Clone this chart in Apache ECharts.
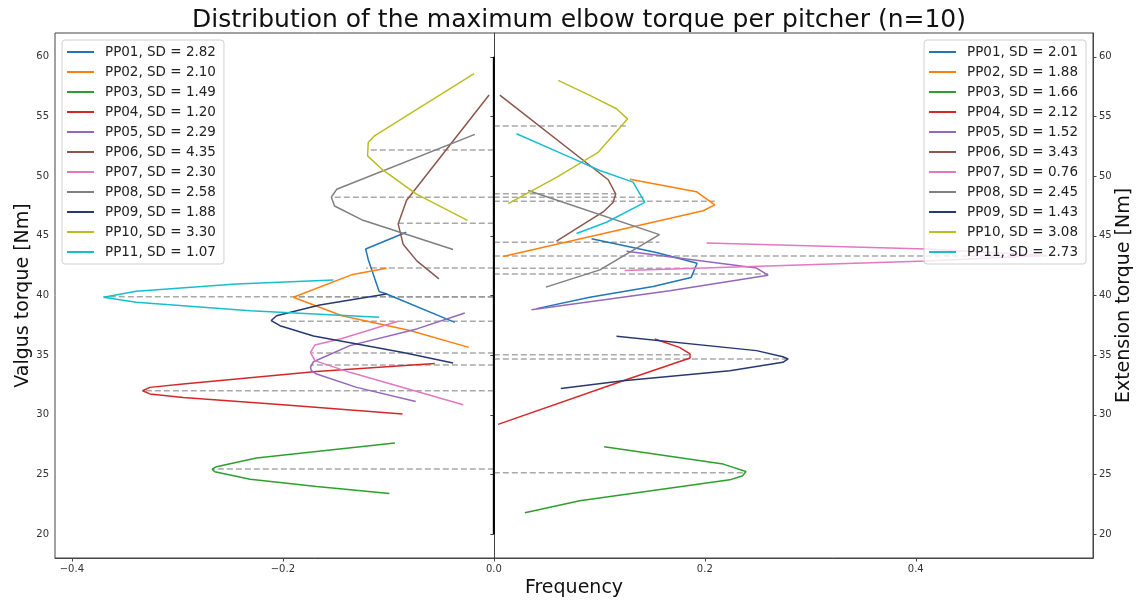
<!DOCTYPE html>
<html>
<head>
<meta charset="utf-8">
<style>
  html, body { margin: 0; padding: 0; background: #fff; }
  #chart { width: 1139px; height: 601px; }
</style>
</head>
<body>
<div id="chart"></div>
<script src="https://cdn.jsdelivr.net/npm/echarts@6/dist/echarts.min.js"></script>
<script>
// pitchers and colours
var pitchers = ['PP01', 'PP02', 'PP03', 'PP04', 'PP05', 'PP06', 'PP07', 'PP08', 'PP09', 'PP10', 'PP11'];
var colors = ['#1f77b4', '#ff7f0e', '#2ca02c', '#d62728', '#9467bd', '#8c564b', '#e377c2', '#7f7f7f', '#283872', '#bcbd22', '#17becf'];

// SD per pitcher (left = valgus, right = extension)
var valgusSD = ['2.82', '2.10', '1.49', '1.20', '2.29', '4.35', '2.30', '2.58', '1.88', '3.30', '1.07'];
var extensionSD = ['2.01', '1.88', '1.66', '2.12', '1.52', '3.43', '0.76', '2.45', '1.43', '3.08', '2.73'];

// density curves, [frequency, torque]; valgus drawn on the negative side
var valgusCurves = [
  [[-0.083, 45.3], [-0.1215, 43.9], [-0.119, 43.0], [-0.1087, 40.33], [-0.1017, 40.13], [-0.037, 37.75]],
  [[-0.1017, 42.28], [-0.135, 41.73], [-0.190, 39.85], [-0.144, 38.3], [-0.0796, 37.06], [-0.0237, 35.65]],
  [[-0.0938, 27.63], [-0.225, 26.38], [-0.263, 25.65], [-0.267, 25.45], [-0.2645, 25.23], [-0.231, 24.6], [-0.168, 24.0], [-0.099, 23.4]],
  [[-0.056, 34.31], [-0.168, 33.64], [-0.2945, 32.58], [-0.326, 32.3], [-0.333, 32.02], [-0.326, 31.75], [-0.2945, 31.46], [-0.2, 30.85], [-0.0866, 30.07]],
  [[-0.0275, 38.54], [-0.073, 37.2], [-0.1365, 35.8], [-0.171, 34.45], [-0.1738, 33.98], [-0.173, 33.7], [-0.168, 33.42], [-0.130, 32.3], [-0.074, 31.12]],
  [[-0.0045, 56.8], [-0.0828, 47.96], [-0.0907, 46.0], [-0.086, 44.3], [-0.073, 42.9], [-0.052, 41.4]],
  [[-0.0907, 37.84], [-0.144, 36.4], [-0.1697, 35.85], [-0.1738, 35.23], [-0.1697, 34.54], [-0.1365, 33.56], [-0.029, 30.85]],
  [[-0.018, 53.5], [-0.149, 48.9], [-0.154, 48.24], [-0.151, 47.5], [-0.124, 46.3], [-0.0386, 43.85]],
  [[-0.1017, 40.13], [-0.165, 39.2], [-0.206, 38.3], [-0.211, 37.9], [-0.2027, 37.47], [-0.171, 36.6], [-0.086, 35.23], [-0.0386, 34.35]],
  [[-0.0187, 58.6], [-0.1128, 53.4], [-0.119, 52.85], [-0.1197, 51.7], [-0.105, 50.5], [-0.0733, 48.5], [-0.025, 46.3]],
  [[-0.152, 41.3], [-0.244, 40.97], [-0.339, 40.35], [-0.370, 39.85], [-0.339, 39.43], [-0.231, 38.73], [-0.1087, 38.17]]
];

var extensionCurves = [
  [[0.0926, 44.75], [0.154, 43.6], [0.1927, 42.7], [0.187, 41.5], [0.151, 40.75], [0.091, 39.85], [0.0405, 38.9]],
  [[0.129, 49.75], [0.192, 48.7], [0.2095, 47.6], [0.1984, 47.1], [0.0088, 43.26]],
  [[0.1046, 27.32], [0.2174, 25.87], [0.239, 25.25], [0.236, 24.9], [0.2237, 24.55], [0.0815, 22.8], [0.0294, 21.8]],
  [[0.1526, 36.36], [0.176, 35.65], [0.186, 35.1], [0.186, 34.76], [0.1226, 32.86], [0.004, 29.2]],
  [[0.1258, 43.7], [0.249, 42.3], [0.26, 41.7], [0.1668, 40.4], [0.0357, 38.8]],
  [[0.0057, 56.8], [0.1084, 49.7], [0.1156, 48.5], [0.113, 47.8], [0.1036, 47.0], [0.0594, 44.55]],
  [[0.2016, 44.4], [0.41, 43.9], [0.524, 43.35], [0.41, 42.9], [0.124, 42.1]],
  [[0.0325, 48.8], [0.157, 45.1], [0.1005, 42.15], [0.0493, 40.7]],
  [[0.1163, 36.58], [0.249, 35.38], [0.274, 34.87], [0.279, 34.68], [0.274, 34.4], [0.2237, 33.7], [0.1226, 32.86], [0.0635, 32.2]],
  [[0.061, 58.03], [0.091, 56.77], [0.1163, 55.65], [0.1267, 54.8], [0.0989, 52.0], [0.0594, 49.9], [0.0136, 47.7]],
  [[0.0215, 53.56], [0.072, 51.6], [0.1005, 50.48], [0.132, 49.5], [0.1431, 47.8], [0.1068, 46.14], [0.0784, 45.2]]
];

// dashed markers: [torque, frequency reached]
var valgusMarks = [[52.2, -0.119], [48.24, -0.152], [46.06, -0.0907], [42.3, -0.121], [39.9, -0.37], [39.9, -0.19], [39.9, -0.102],
  [37.84, -0.203], [35.18, -0.173], [34.18, -0.174], [32.02, -0.332], [25.45, -0.267]];
var extensionMarks = [[54.2, 0.1267], [48.52, 0.115], [48.24, 0.143], [47.9, 0.2095], [44.46, 0.157], [43.32, 0.524],
  [42.28, 0.192], [41.8, 0.26], [35.04, 0.186], [34.68, 0.279], [25.14, 0.238]];

// axes
var xTicks = [-0.4, -0.2, 0.0, 0.2, 0.4];
var yTicks = [20, 25, 30, 35, 40, 45, 50, 55, 60];
var centerLine = [[0, 20], [0, 60]];

var chart = echarts.init(document.getElementById('chart'));
var font = 'DejaVu Sans';

var series = [];
var leftNames = [], rightNames = [];

valgusMarks.concat(extensionMarks).forEach(function (m) {
  series.push({
    type: 'line', symbol: 'none', silent: true,
    data: [[0, m[0]], [m[1], m[0]]],
    lineStyle: { color: '#9a9a9a', width: 1.5, type: [6, 3], opacity: 0.85 },
    z: 1
  });
});

pitchers.forEach(function (p, i) {
  var ln = p + ', SD = ' + valgusSD[i];
  var rn = p + ', SD = ' + extensionSD[i];
  leftNames.push(ln);
  rightNames.push(rn);
  series.push({
    name: ln, type: 'line', symbol: 'none', data: valgusCurves[i],
    lineStyle: { color: colors[i], width: 1.5 }, itemStyle: { color: colors[i] }, z: 3
  });
  series.push({
    name: rn, type: 'line', symbol: 'none', data: extensionCurves[i],
    lineStyle: { color: colors[i], width: 1.5 }, itemStyle: { color: colors[i] }, z: 3
  });
});

series.push({
  type: 'line', symbol: 'none', silent: true, data: centerLine,
  lineStyle: { color: '#000', width: 2 }, z: 4
});

function legendOf(names, pos) {
  var l = {
    orient: 'vertical', top: 40, data: names, selectedMode: false,
    icon: 'path://M0,0 L27,0 L27,2 L0,2 Z',
    itemWidth: 27, itemHeight: 2, itemGap: 6,
    padding: [5, 8, 5, 5],
    backgroundColor: 'rgba(255,255,255,0.8)',
    borderColor: '#d0d0d0', borderWidth: 1, borderRadius: 3,
    textStyle: { fontFamily: font, fontSize: 13.5, color: '#222', lineHeight: 14, padding: [0, 0, 0, 6] }
  };
  for (var k in pos) l[k] = pos[k];
  return l;
}

function xLabel(v) {
  var s = Math.abs(v).toFixed(1);
  return v < 0 ? '\u2212' + s : s;
}

var tickLabel = { fontFamily: font, fontSize: 10, color: '#333' };

chart.setOption({
  animation: false,
  backgroundColor: '#fff',
  title: {
    text: 'Distribution of the maximum elbow torque per pitcher (n=10)',
    left: 574, top: 3, textAlign: 'center',
    textStyle: { fontFamily: font, fontSize: 25, fontWeight: 'normal', color: '#111' }
  },
  legend: [legendOf(leftNames, { left: 62 }), legendOf(rightNames, { right: 53 })],
  grid: { left: 55, right: 46, top: 33, bottom: 43, show: true, borderColor: '#444', borderWidth: 1, outerBoundsMode: 'none' },
  xAxis: {
    type: 'value', min: -0.416, max: 0.568,
    name: 'Frequency', nameLocation: 'middle', nameGap: 19,
    nameTextStyle: { fontFamily: font, fontSize: 19, color: '#111' },
    axisLine: { show: true, lineStyle: { color: '#444' } },
    axisTick: { show: true, customValues: xTicks, length: 3.5, lineStyle: { color: '#444' } },
    axisLabel: Object.assign({ customValues: xTicks, formatter: xLabel, margin: 6 }, tickLabel),
    splitLine: { show: false }
  },
  yAxis: [{
    type: 'value', min: 18, max: 62, position: 'left',
    name: 'Valgus torque [Nm]', nameLocation: 'middle', nameGap: 22, nameRotate: 90, nameMoveOverlap: false,
    nameTextStyle: { fontFamily: font, fontSize: 19, color: '#111' },
    axisLine: { show: true, lineStyle: { color: '#444' } },
    axisTick: { show: true, customValues: yTicks, length: 3.5, lineStyle: { color: '#444' } },
    axisLabel: Object.assign({ customValues: yTicks, margin: 6 }, tickLabel),
    splitLine: { show: false }
  }, {
    type: 'value', min: 18, max: 62, position: 'right',
    name: 'Extension torque [Nm]', nameLocation: 'middle', nameGap: 22, nameRotate: 90, nameMoveOverlap: false,
    nameTextStyle: { fontFamily: font, fontSize: 19, color: '#111' },
    axisLine: { show: true, lineStyle: { color: '#444' } },
    axisTick: { show: true, customValues: yTicks, length: 3.5, lineStyle: { color: '#444' } },
    axisLabel: Object.assign({ customValues: yTicks, margin: 6 }, tickLabel),
    splitLine: { show: false }
  }],
  series: series
});
</script>
</body>
</html>
